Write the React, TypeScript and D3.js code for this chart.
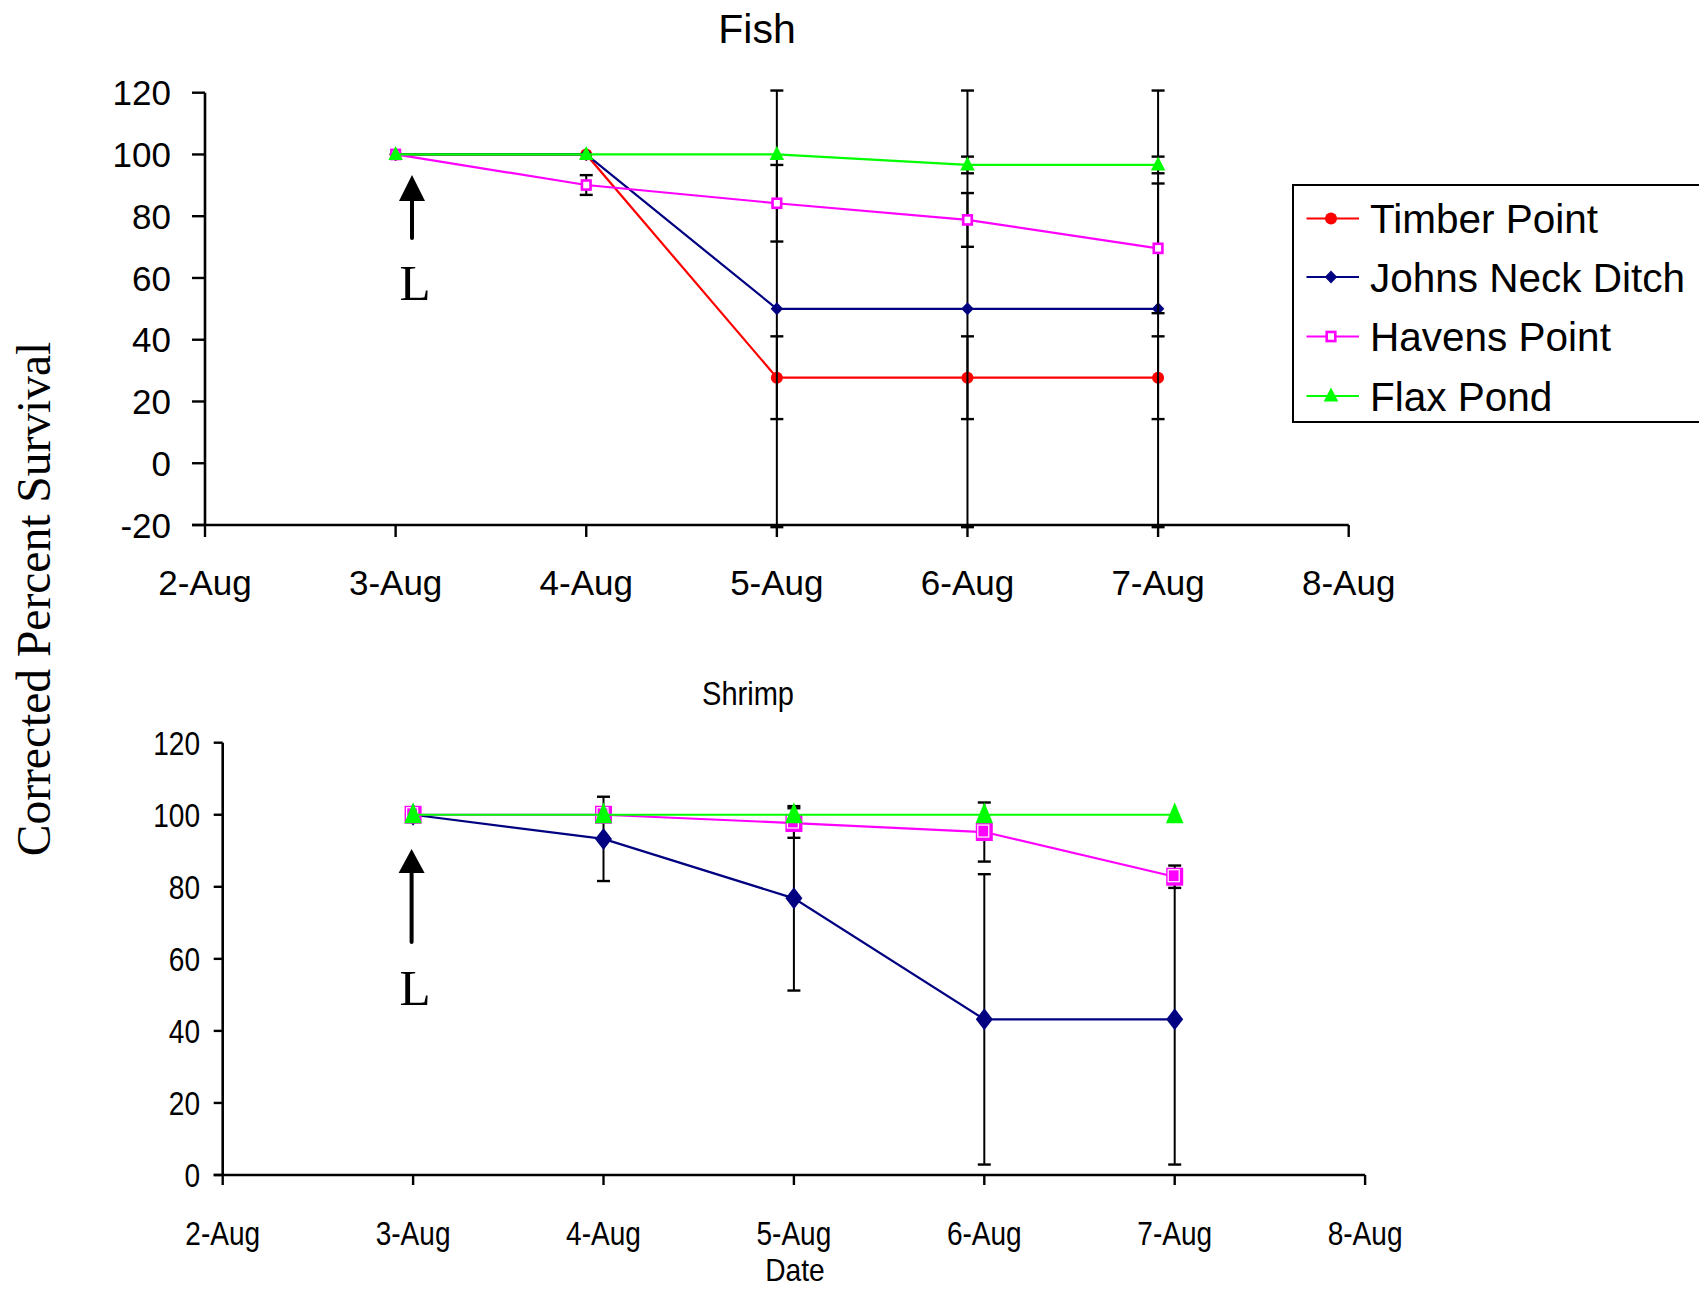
import React from "react";
import * as d3 from "d3";

const dateLabels = ["2-Aug", "3-Aug", "4-Aug", "5-Aug", "6-Aug", "7-Aug", "8-Aug"];
const sampleDays = [1, 2, 3, 4, 5];

const seriesNames = ["Timber Point", "Johns Neck Ditch", "Havens Point", "Flax Pond"];
const seriesColors = ["#FF0000", "#000080", "#FF00FF", "#00FF00"];
const seriesShapes = ["circle", "diamond", "square", "triangle"];

// Fish
const fishTimber = [100, 100, 27.7, 27.7, 27.7];
const fishTimberErr = [0, 0, 13.4, 13.4, 13.4];
const fishJohns = [100, 100, 50, 50, 50];
const fishJohnsErr = [0, 0, 70.7, 70.7, 70.7];
const fishHavens = [100, 90.1, 84.2, 78.8, 69.6];
const fishHavensErr = [0, 3.2, 12.4, 8.7, 21];
const fishFlax = [100, 100, 100, 96.6, 96.6];
const fishFlaxErr = [0, 0, 0, 2.7, 2.7];

// Shrimp
const shrimpJohns = [100, 93.3, 76.8, 43.2, 43.2];
const shrimpJohnsErr = [0, 11.7, 25.6, 40.3, 40.3];
const shrimpHavens = [100, 100, 97.7, 95.2, 82.8];
const shrimpHavensErr = [0, 0, 4.1, 8.2, 3.1];
const shrimpFlax = [100, 100, 100, 100, 100];
const shrimpFlaxErr = [0, 0, 0, 0, 0];

const fishTicks = [-20, 0, 20, 40, 60, 80, 100, 120];
const shrimpTicks = [0, 20, 40, 60, 80, 100, 120];

const SANS = "'Liberation Sans', Arial, sans-serif";
const SERIF = "'Liberation Serif', 'Times New Roman', serif";

function Marker({ shape, x, y, w, h, color, big }: any) {
  if (shape === "circle") return <ellipse cx={x} cy={y} rx={w / 2} ry={h / 2} fill={color} />;
  if (shape === "diamond")
    return <path d={`M${x},${y - h / 2}L${x + w / 2},${y}L${x},${y + h / 2}L${x - w / 2},${y}Z`} fill={color} />;
  if (shape === "triangle")
    return <path d={`M${x},${y - h * 0.6}L${x + w / 2},${y + h * 0.4}L${x - w / 2},${y + h * 0.4}Z`} fill={color} />;
  if (shape === "square") {
    if (big)
      return (
        <g>
          <rect x={x - w / 2} y={y - h / 2} width={w} height={h} fill={color} />
          <rect x={x - w / 2 + 2} y={y - h / 2 + 2} width={w - 6} height={h - 6} fill="none" stroke="#fff" strokeWidth={1.2} />
        </g>
      );
    return <rect x={x - w / 2 + 1.2} y={y - h / 2 + 1.2} width={w - 2.4} height={h - 2.4} fill="#fff" stroke={color} strokeWidth={2.6} />;
  }
  return null;
}

function Panel({ x, y, series, ticks, markerSize, big, narrow, yTickLen, xTickLen, labelRight, xLabelY, fontSize }: any) {
  const lineGen = d3
    .line<number>()
    .x((_, i) => x(sampleDays[i]))
    .y((d) => y(d));
  const [x0, x1] = x.range();
  const [yb, yt] = y.range();
  const sx = narrow ? 0.85 : 1;
  return (
    <g>
      <line x1={x0} x2={x0} y1={yt} y2={yb} stroke="#000" strokeWidth={2.6} />
      <line x1={x0 - yTickLen} x2={x1} y1={yb} y2={yb} stroke="#000" strokeWidth={2.6} />
      {ticks.map((t: number) => (
        <g key={"yt" + t}>
          <line x1={x0 - yTickLen} x2={x0} y1={y(t)} y2={y(t)} stroke="#000" strokeWidth={2.4} />
          <text
            transform={`translate(${labelRight},${y(t) + fontSize * 0.36}) scale(${sx},1)`}
            textAnchor="end"
            fontFamily={SANS}
            fontSize={fontSize}
            fill="#000"
          >
            {t}
          </text>
        </g>
      ))}
      {dateLabels.map((lab, i) => (
        <g key={"xt" + i}>
          <line x1={x(i)} x2={x(i)} y1={yb} y2={yb + xTickLen} stroke="#000" strokeWidth={2.4} />
          <text
            transform={`translate(${x(i)},${xLabelY}) scale(${sx},1)`}
            textAnchor="middle"
            fontFamily={SANS}
            fontSize={fontSize}
            fill="#000"
          >
            {lab}
          </text>
        </g>
      ))}
      {series.map((s: any, si: number) => (
        <g key={"s" + si}>
          <path d={lineGen(s.values) || ""} fill="none" stroke={s.color} strokeWidth={2.2} />
          {s.values.map((v: number, i: number) => {
            const e = s.errs[i];
            if (!e) return null;
            const cx = x(sampleDays[i]);
            const ya = y(v + e);
            const yb2 = y(v - e);
            return (
              <g key={"e" + i} stroke="#000" strokeWidth={2}>
                <line x1={cx} x2={cx} y1={ya} y2={yb2} />
                <line x1={cx - 6.5} x2={cx + 6.5} y1={ya} y2={ya} strokeWidth={2.4} />
                <line x1={cx - 6.5} x2={cx + 6.5} y1={yb2} y2={yb2} strokeWidth={2.4} />
              </g>
            );
          })}
          {s.values.map((v: number, i: number) => (
            <Marker
              key={"m" + i}
              shape={s.shape}
              x={x(sampleDays[i])}
              y={y(v)}
              w={markerSize[s.shape][0]}
              h={markerSize[s.shape][1]}
              color={s.color}
              big={big}
            />
          ))}
        </g>
      ))}
    </g>
  );
}

function Arrow({ x, tip, base, end }: any) {
  return (
    <g>
      <path d={`M${x},${tip}L${x + 13},${base}L${x - 13},${base}Z`} fill="#000" />
      <line x1={x} x2={x} y1={base - 1} y2={end} stroke="#000" strokeWidth={4} strokeLinecap="round" />
    </g>
  );
}

export default function App() {
  const xFish = d3.scaleLinear().domain([0, 6]).range([205, 1348.7]);
  const yFish = d3.scaleLinear().domain([-20, 120]).range([525, 92.7]);
  const xShrimp = d3.scaleLinear().domain([0, 6]).range([222.7, 1365.1]);
  const yShrimp = d3.scaleLinear().domain([0, 120]).range([1175, 742.7]);

  const fishSeries = [
    { values: fishTimber, errs: fishTimberErr },
    { values: fishJohns, errs: fishJohnsErr },
    { values: fishHavens, errs: fishHavensErr },
    { values: fishFlax, errs: fishFlaxErr },
  ].map((s, i) => ({ ...s, color: seriesColors[i], shape: seriesShapes[i], name: seriesNames[i] }));

  const shrimpSeries = [
    { values: shrimpJohns, errs: shrimpJohnsErr, idx: 1 },
    { values: shrimpHavens, errs: shrimpHavensErr, idx: 2 },
    { values: shrimpFlax, errs: shrimpFlaxErr, idx: 3 },
  ].map((s) => ({ ...s, color: seriesColors[s.idx], shape: seriesShapes[s.idx], name: seriesNames[s.idx] }));

  const smallMarkers = { circle: [12, 12], diamond: [12.5, 13], square: [11, 11.5], triangle: [14.5, 14] };
  const bigMarkers = { circle: [16, 16], diamond: [17, 22], square: [17, 18], triangle: [17.5, 21] };

  const legendY = [218.5, 277, 336.5, 396];

  return (
    <svg
      width={1699}
      height={1289}
      style={{ position: "absolute", left: 0, top: 0, background: "#fff" }}
      xmlns="http://www.w3.org/2000/svg"
    >
      <rect x={0} y={0} width={1699} height={1289} fill="#fff" />
      <text x={757} y={42.5} textAnchor="middle" fontFamily={SANS} fontSize={41} fill="#000">
        Fish
      </text>
      <Panel
        x={xFish}
        y={yFish}
        series={fishSeries}
        ticks={fishTicks}
        markerSize={smallMarkers}
        big={false}
        narrow={false}
        yTickLen={13}
        xTickLen={12}
        labelRight={171}
        xLabelY={595}
        fontSize={35}
      />
      <Arrow x={412} tip={175} base={201} end={238} />
      <text x={415} y={300} textAnchor="middle" fontFamily={SERIF} fontSize={51} fill="#000">
        L
      </text>

      {/* Legend */}
      <rect x={1293} y={185} width={420} height={237} fill="#fff" stroke="#000" strokeWidth={2} />
      {fishSeries.map((s, i) => (
        <g key={"lg" + i}>
          <line x1={1306.5} x2={1359} y1={legendY[i]} y2={legendY[i]} stroke={s.color} strokeWidth={2.2} />
          <Marker
            shape={s.shape}
            x={1331}
            y={legendY[i]}
            w={smallMarkers[s.shape as keyof typeof smallMarkers][0]}
            h={smallMarkers[s.shape as keyof typeof smallMarkers][1]}
            color={s.color}
            big={false}
          />
          <text x={1370} y={legendY[i] + 14.5} fontFamily={SANS} fontSize={40.5} fill="#000">
            {s.name}
          </text>
        </g>
      ))}

      <text
        transform={`translate(748,705) scale(0.88,1)`}
        textAnchor="middle"
        fontFamily={SANS}
        fontSize={33}
        fill="#000"
      >
        Shrimp
      </text>
      <Panel
        x={xShrimp}
        y={yShrimp}
        series={shrimpSeries}
        ticks={shrimpTicks}
        markerSize={bigMarkers}
        big={true}
        narrow={true}
        yTickLen={9}
        xTickLen={10}
        labelRight={200}
        xLabelY={1245}
        fontSize={33}
      />
      <Arrow x={411.6} tip={849} base={873} end={942} />
      <text x={415} y={1005} textAnchor="middle" fontFamily={SERIF} fontSize={51} fill="#000">
        L
      </text>
      <text
        transform={`translate(795,1281) scale(0.88,1)`}
        textAnchor="middle"
        fontFamily={SANS}
        fontSize={32}
        fill="#000"
      >
        Date
      </text>

      <text
        transform={`translate(50,599) rotate(-90)`}
        textAnchor="middle"
        fontFamily={SERIF}
        fontSize={47.5}
        fill="#000"
      >
        Corrected Percent Survival
      </text>
    </svg>
  );
}
